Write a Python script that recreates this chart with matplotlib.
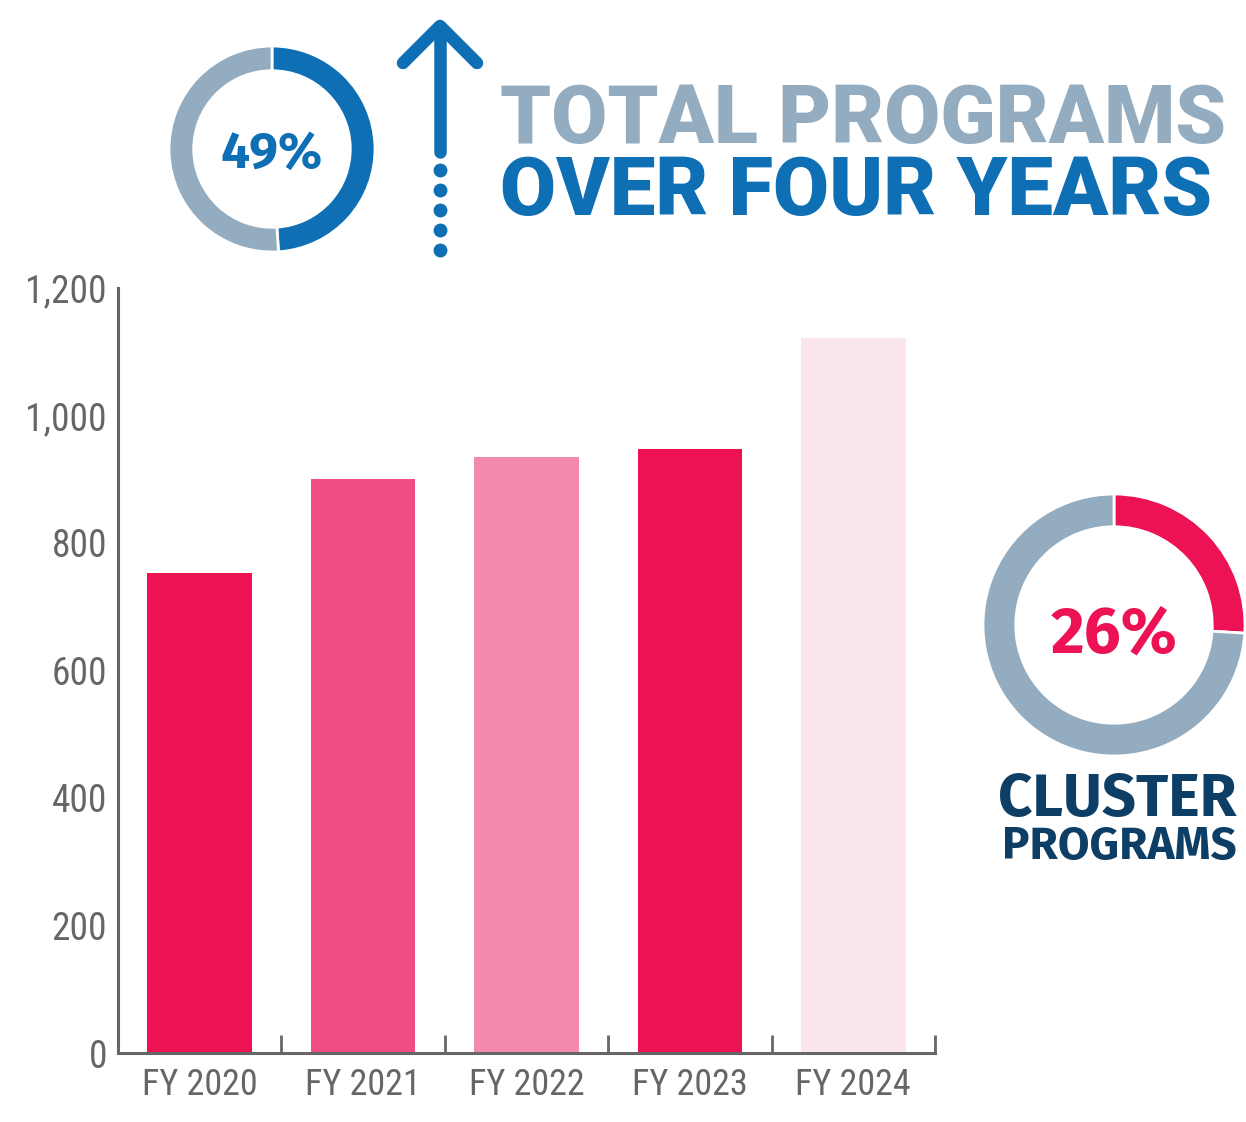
import matplotlib
matplotlib.use('Agg')
import matplotlib.pyplot as plt
import numpy as np

# data
years = ['FY 2020', 'FY 2021', 'FY 2022', 'FY 2023', 'FY 2024']
programs = [753, 900, 935, 947, 1121]
bar_colors = ['#EC1254', '#F04E82', '#F48AAB', '#EC1254', '#FCE6EE']
yticks = [0, 200, 400, 600, 800, 1000, 1200]
total_growth = 49      # % growth of total programs
cluster_share = 26     # % cluster programs

W, H = 1246, 1122
fig = plt.figure(figsize=(W / 100, H / 100), dpi=100)
fig.patch.set_facecolor('white')

narrow = ['Roboto Condensed', 'DejaVu Sans']
heavy = ['Roboto', 'DejaVu Sans']
demi = ['Fira Sans', 'DejaVu Sans']
grey = '#666666'
pink = '#EC1254'
blue = '#0E6FB4'
ring_grey = '#94ACBF'
navy = '#0D3F66'


def px_box(x0, y0, x1, y1):
    # pixel box (top-left origin) -> figure fraction rect
    return [x0 / W, 1 - y1 / H, (x1 - x0) / W, (y1 - y0) / H]


# main bar chart
ax = fig.add_axes(px_box(118, 288, 935, 1053))
x = np.arange(len(years))
ax.bar(x, programs, width=0.64, color=bar_colors)
ax.set_xlim(-0.5, len(years) - 0.5)
ax.set_ylim(0, 1200)
ax.set_yticks(yticks)
ax.set_yticklabels([f'{v:,}' for v in yticks], fontsize=27, color=grey,
                   family=narrow)
ax.tick_params(axis='y', length=0, pad=8)
ax.set_xticks(np.arange(-0.5, len(years)))
ax.set_xticklabels([])
ax.tick_params(axis='x', direction='in', length=13, width=2, color=grey)
for i, lab in enumerate(years):
    ax.text(i, -22, lab, ha='center', va='top', fontsize=26, color=grey,
            family=narrow)
for s in ['top', 'right']:
    ax.spines[s].set_visible(False)
for s in ['left', 'bottom']:
    ax.spines[s].set_color(grey)
    ax.spines[s].set_linewidth(2.2)

# donut: total growth
ax1 = fig.add_axes(px_box(169, 46, 375, 252))
ax1.pie([total_growth, 100 - total_growth], colors=[blue, ring_grey],
        startangle=90, counterclock=False, radius=1,
        wedgeprops=dict(width=0.24, edgecolor='white', linewidth=2))
ax1.set_xlim(-1, 1)
ax1.set_ylim(-1, 1)
ax1.text(0, -0.05, f'{total_growth}%', ha='center', va='center', fontsize=37,
         fontweight='bold', color=blue, family=demi)

# donut: cluster share
ax2 = fig.add_axes(px_box(983, 494, 1245, 756))
ax2.pie([cluster_share, 100 - cluster_share], colors=[pink, ring_grey],
        startangle=90, counterclock=False, radius=1,
        wedgeprops=dict(width=0.25, edgecolor='white', linewidth=2))
ax2.set_xlim(-1, 1)
ax2.set_ylim(-1, 1)
ax2.text(0, -0.08, f'{cluster_share}%', ha='center', va='center', fontsize=47,
         fontweight='bold', color=pink, family=demi)

# overlay in pixel coordinates for arrow and headline text
ov = fig.add_axes([0, 0, 1, 1])
ov.set_xlim(0, W)
ov.set_ylim(H, 0)
ov.axis('off')
ov.plot([440, 440], [28, 152], color=blue, lw=9, solid_capstyle='round')
ov.plot([403, 440, 477], [63, 26, 63], color=blue, lw=9,
        solid_capstyle='round', solid_joinstyle='round')
ov.plot([440] * 5, [170, 190, 210, 230, 250], 'o', color=blue, ms=9)

ov.text(500, 143, 'TOTAL PROGRAMS', ha='left', va='baseline', fontsize=58.5,
        fontweight='black', color=ring_grey, family=heavy)
ov.text(500, 215, 'OVER FOUR YEARS', ha='left', va='baseline', fontsize=58.5,
        fontweight='black', color=blue, family=heavy)

ov.text(1117, 816, 'CLUSTER', ha='center', va='baseline', fontsize=43,
        fontweight='bold', color=navy, family=demi)
ov.text(1119, 859, 'PROGRAMS', ha='center', va='baseline', fontsize=33,
        fontweight='bold', color=navy, family=demi)

fig.savefig('out.png', dpi=100)
